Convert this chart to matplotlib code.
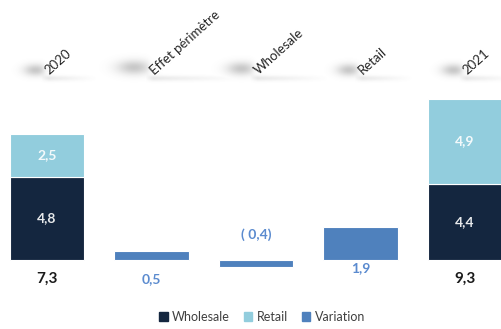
import numpy as np
import matplotlib
matplotlib.use("Agg")
import matplotlib.pyplot as plt
from matplotlib.patches import Patch

plt.rcParams['font.family'] = ['Lato', 'DejaVu Sans']

categories = ["2020", "Effet périmètre", "Wholesale", "Retail", "2021"]
wholesale = [4.8, None, None, None, 4.4]
retail = [2.5, None, None, None, 4.9]
variation = [None, 0.5, -0.4, 1.9, None]
totals = ["7,3", None, None, None, "9,3"]
seg_labels_w = ["4,8", None, None, None, "4,4"]
seg_labels_r = ["2,5", None, None, None, "4,9"]
var_labels = [None, "0,5", "( 0,4)", "1,9", None]

C_W = "#14263f"
C_R = "#92cddd"
C_V = "#4f81bd"
C_VL = "#5b8bcf"

W, H = 501, 329
fig = plt.figure(figsize=(W / 100, H / 100), dpi=100)

# background axes for soft label shadows (pixel coords)
bg = fig.add_axes([0, 0, 1, 1], zorder=0)
bg.axis("off")

ax = fig.add_axes([0, 0, 1, 1], zorder=1)
ax.set_facecolor("none")
ax.set_xlim(-0.45, 4.345)
ax.set_ylim(-4.0, 15.03)
ax.axis("off")

x = np.arange(len(categories))
bw = 0.71
for i in x:
    if wholesale[i] is not None:
        ax.bar(i, wholesale[i], bw, color=C_W, edgecolor="white", linewidth=0.8)
        ax.bar(i, retail[i], bw, bottom=wholesale[i], color=C_R, edgecolor="white", linewidth=0.8)
        ax.text(i, wholesale[i] / 2, seg_labels_w[i], color="white", ha="center", va="center",
                fontsize=10, fontweight="bold", alpha=0.9)
        ax.text(i, wholesale[i] + retail[i] / 2, seg_labels_r[i], color="white", ha="center",
                va="center", fontsize=10, fontweight="bold", alpha=0.9)
        ax.annotate(totals[i], (i, 0), xytext=(0, -13.5), textcoords="offset points",
                    ha="center", va="center", fontsize=11, fontweight="bold", color="#1a1a1a")
    if variation[i] is not None:
        ax.bar(i, variation[i], bw, color=C_V, edgecolor="white", linewidth=0.8)

# variation labels
var_offsets = {1: -14, 2: 18, 3: -6}
for i, off in var_offsets.items():
    ax.annotate(var_labels[i], (i, 0), xytext=(0, off), textcoords="offset points",
                ha="center", va="center", fontsize=10, fontweight="bold", color=C_VL)

# category labels, rotated, with soft shadows
fig.canvas.draw()
renderer = fig.canvas.get_renderer()
ylab = 0.78
X, Y = np.meshgrid(np.arange(W) + 0.5, np.arange(H) + 0.5)
alpha = np.zeros((H, W))
for i, cat in enumerate(categories):
    t = ax.text(i, ylab, cat, transform=ax.get_xaxis_transform(), rotation=42,
                rotation_mode="anchor", ha="left", va="center", fontsize=9.5, color="#262626")
    bb = t.get_window_extent(renderer=renderer)
    cx = ax.transData.transform((i, 0))[0]
    L = bb.width
    yb = H - bb.y0  # bottom of text in pixel-from-top
    # soft blob left of the text start
    bx = cx - 7 - 0.14 * L
    by = yb - 5 - 0.06 * L
    sx = 8 + 0.12 * L
    sy = 5 + 0.03 * L
    blob = 0.33 * np.exp(-((X - bx) / sx) ** 2 - ((Y - by) / sy) ** 2)
    # light band below the text box
    band_x = np.clip((X - (cx - 6)) / 8, 0, 1) * np.clip(1 - (X - cx) / (L + 20), 0, 1)
    band = 0.16 * band_x * np.exp(-((Y - (yb + 1)) / 3.0) ** 2)
    a = blob + band
    # text box (white) softly masks shadow above its bottom edge to the right of start
    mx = 1 / (1 + np.exp(-(X - (cx - 2)) / 1.5))
    my = 1 / (1 + np.exp((Y - (yb - 1)) / 1.5))
    a = a * (1 - 0.85 * mx * my)
    alpha = np.maximum(alpha, a)

img = np.zeros((H, W, 4))
img[..., 0:3] = 0.35
img[..., 3] = np.clip(alpha, 0, 1)
bg.imshow(img, extent=(0, W, H, 0), interpolation="bilinear", zorder=0)
bg.set_xlim(0, W)
bg.set_ylim(H, 0)

handles = [Patch(color=C_W, label="Wholesale"), Patch(color=C_R, label="Retail"),
           Patch(color=C_V, label="Variation")]
fig.legend(handles=handles, loc="lower center", bbox_to_anchor=(0.523, -0.015), ncol=3,
           frameon=False, fontsize=9, handlelength=0.7, handleheight=0.7,
           handletextpad=0.35, columnspacing=1.1, labelcolor="#404040")

fig.savefig("out.png", dpi=100)
